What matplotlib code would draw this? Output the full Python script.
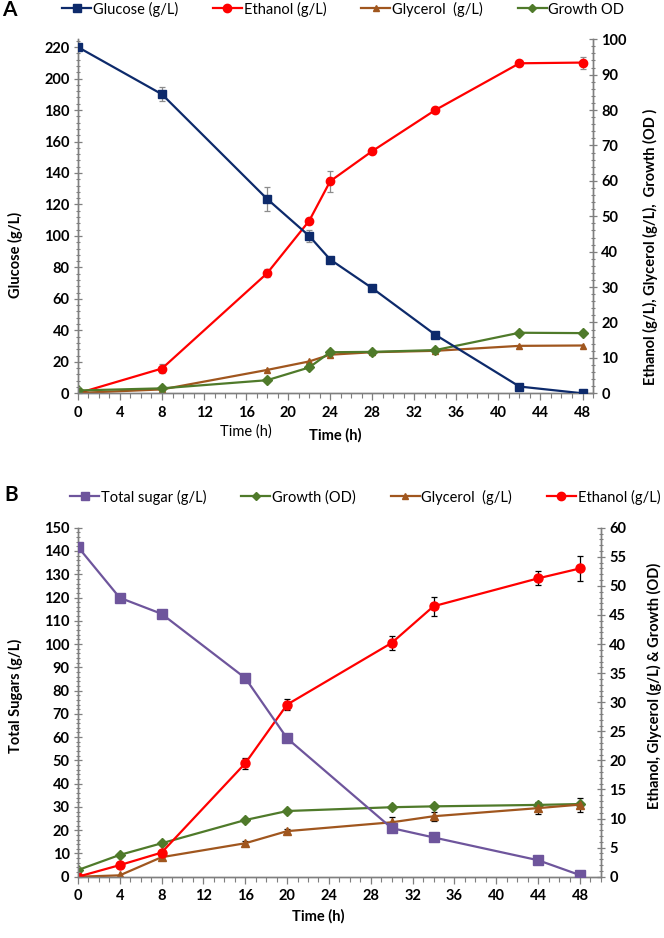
import numpy as np
import matplotlib.pyplot as plt
from matplotlib.ticker import MultipleLocator
from matplotlib.lines import Line2D

plt.rcParams['font.family'] = ['Lato', 'DejaVu Sans']

# ---- panel A data
time_a = [0, 8, 18, 22, 24, 28, 34, 42, 48]
glucose_a = [220, 190, 123.5, 100, 85, 66.8, 37.2, 4.3, 0]
glucose_a_err = [0, 4.4, 7.9, 3.6, 0, 0, 0, 0, 0]
ethanol_a = [0, 7.0, 33.9, 48.7, 59.9, 68.4, 80.0, 93.2, 93.4]
ethanol_a_err = [0, 1.4, 1.1, 0.8, 3.0, 0.9, 0.9, 0.5, 1.7]
glycerol_a = [0.1, 1.1, 6.6, 9.0, 10.9, 11.6, 12.0, 13.4, 13.5]
growth_a = [0.8, 1.4, 3.7, 7.3, 11.6, 11.7, 12.2, 17.1, 17.0]

# ---- panel B data
time_b = [0, 4, 8, 16, 20, 30, 34, 44, 48]
sugar_b = [141.8, 119.9, 113.0, 85.4, 59.5, 20.9, 16.9, 7.1, 0.7]
sugar_b_err = [0, 0, 1.7, 0, 0, 0, 0, 0, 0]
ethanol_b = [0, 2.0, 4.15, 19.5, 29.6, 40.2, 46.5, 51.3, 53.0]
ethanol_b_err = [0, 0, 0, 0.9, 0.95, 1.2, 1.6, 1.2, 2.2]
glycerol_b = [0, 0.24, 3.36, 5.76, 7.84, 9.36, 10.4, 11.8, 12.4]
glycerol_b_err = [0, 0, 0, 0.3, 0.4, 0.9, 0.8, 1.0, 1.2]
growth_b = [1.15, 3.75, 5.75, 9.75, 11.3, 11.95, 12.1, 12.35, 12.5]
growth_b_err = [0, 0, 0, 0, 0, 0, 0, 0.3, 0]

c_glu = '#0d2a6b'
c_eth = '#ff0000'
c_gly = '#a0561e'
c_gro = '#4f7a2a'
c_sug = '#6e559c'
c_spine = '#7f7f7f'


def errbars(ax, x, y, e, color):
    x = np.array(x); y = np.array(y); e = np.array(e)
    m = e > 0
    ax.errorbar(x[m], y[m], yerr=e[m], fmt='none', ecolor=color,
                elinewidth=0.9, capsize=2.5, capthick=0.9, zorder=4)


def style_axes(ax, ax2, xmax, ymax, ymaj, ymin, y2max, y2maj, y2min):
    ax.set_xlim(0, xmax)
    ax.set_ylim(0, ymax)
    ax2.set_ylim(0, y2max)
    ax.xaxis.set_major_locator(MultipleLocator(4))
    ax.xaxis.set_minor_locator(MultipleLocator(1))
    ax.yaxis.set_major_locator(MultipleLocator(ymaj))
    ax.yaxis.set_minor_locator(MultipleLocator(ymin))
    ax2.yaxis.set_major_locator(MultipleLocator(y2maj))
    ax2.yaxis.set_minor_locator(MultipleLocator(y2min))
    for a in (ax, ax2):
        a.spines['top'].set_visible(False)
        for s in ('left', 'right', 'bottom'):
            a.spines[s].set_color(c_spine)
            a.spines[s].set_linewidth(1.0)
        a.tick_params(which='major', direction='inout', length=6, width=0.9,
                      color=c_spine, labelsize=10.5, pad=3)
        a.tick_params(which='minor', direction='inout', length=3.5, width=0.8,
                      color=c_spine)
        for lab in a.get_xticklabels() + a.get_yticklabels():
            lab.set_fontweight('bold')
    ax.tick_params(axis='x', which='both', direction='out')
    ax.tick_params(axis='x', which='major', length=5, pad=4)


fig = plt.figure(figsize=(6.64, 9.38), dpi=100)

# ================= Panel A
ax = fig.add_axes([0.1173, 0.5807, 0.7758, 0.3775])
ax2 = ax.twinx()
ax.set_zorder(2)
ax.patch.set_visible(False)

errbars(ax, time_a, glucose_a, glucose_a_err, '#8c8c8c')
ax.plot(time_a, glucose_a, color=c_glu, lw=1.6, marker='s', ms=5.5, zorder=5)
errbars(ax2, time_a, ethanol_a, ethanol_a_err, '#8c8c8c')
ax2.plot(time_a, ethanol_a, color=c_eth, lw=1.6, marker='o', ms=6, zorder=5)
ax2.plot(time_a, glycerol_a, color=c_gly, lw=1.6, marker='^', ms=5, zorder=5)
ax2.plot(time_a, growth_a, color=c_gro, lw=1.6, marker='D', ms=5, zorder=5)
style_axes(ax, ax2, 49, 225, 20, 4, 100, 10, 2)

fig.text(15 / 664, 1 - 255 / 938, 'Glucose (g/L)', rotation=90, ha='center',
         va='center', fontsize=10.5, fontweight='bold')
fig.text(650 / 664, 1 - 247 / 938, 'Ethanol (g/L), Glycerol (g/L),  Growth (OD )',
         rotation=90, ha='center', va='center', fontsize=10.5, fontweight='bold')
fig.text(246 / 664, 1 - 432 / 938, 'Time (h)', ha='center', va='center',
         fontsize=10.5)
fig.text(335 / 664, 1 - 435 / 938, 'Time (h)', ha='center', va='center',
         fontsize=10.5, fontweight='bold')
fig.text(2 / 664, 1 - 10 / 938, 'A', ha='left', va='center', fontsize=15,
         fontweight='bold')

handles_a = [
    Line2D([], [], color=c_glu, lw=1.6, marker='s', ms=5.5),
    Line2D([], [], color=c_eth, lw=1.6, marker='o', ms=6),
    Line2D([], [], color=c_gly, lw=1.6, marker='^', ms=5),
    Line2D([], [], color=c_gro, lw=1.6, marker='D', ms=4),
]
fig.legend(handles_a, ['Glucose (g/L)', 'Ethanol (g/L)', 'Glycerol  (g/L)', 'Growth OD'],
           loc='center left', bbox_to_anchor=(62 / 664, 1 - 9 / 938), ncol=4,
           frameon=False, fontsize=10.5, handlelength=2.0, handletextpad=0.1,
           columnspacing=2.4, borderaxespad=0, borderpad=0)

# ================= Panel B
bx = fig.add_axes([0.1173, 0.0653, 0.7877, 0.3721])
bx2 = bx.twinx()
bx.set_zorder(2)
bx.patch.set_visible(False)

errbars(bx, time_b, sugar_b, sugar_b_err, 'black')
bx.plot(time_b, sugar_b, color=c_sug, lw=1.6, marker='s', ms=7, zorder=5)
errbars(bx2, time_b, growth_b, growth_b_err, 'black')
bx2.plot(time_b, growth_b, color=c_gro, lw=1.6, marker='D', ms=5, zorder=5)
errbars(bx2, time_b, glycerol_b, glycerol_b_err, 'black')
bx2.plot(time_b, glycerol_b, color=c_gly, lw=1.6, marker='^', ms=6, zorder=5)
errbars(bx2, time_b, ethanol_b, ethanol_b_err, 'black')
bx2.plot(time_b, ethanol_b, color=c_eth, lw=1.6, marker='o', ms=6.5, zorder=5)
style_axes(bx, bx2, 50, 150, 10, 2, 60, 5, 1)

fig.text(15 / 664, 1 - 696 / 938, 'Total Sugars (g/L)', rotation=90, ha='center',
         va='center', fontsize=10.5, fontweight='bold')
fig.text(654 / 664, 1 - 686 / 938, 'Ethanol, Glycerol (g/L) & Growth (OD)',
         rotation=90, ha='center', va='center', fontsize=10.5, fontweight='bold')
fig.text(318 / 664, 1 - 916 / 938, 'Time (h)', ha='center', va='center',
         fontsize=10.5, fontweight='bold')
fig.text(4 / 664, 1 - 495 / 938, 'B', ha='left', va='center', fontsize=15,
         fontweight='bold')

handles_b = [
    Line2D([], [], color=c_sug, lw=1.6, marker='s', ms=6),
    Line2D([], [], color=c_gro, lw=1.6, marker='D', ms=4),
    Line2D([], [], color=c_gly, lw=1.6, marker='^', ms=5),
    Line2D([], [], color=c_eth, lw=1.6, marker='o', ms=6),
]
fig.legend(handles_b, ['Total sugar (g/L)', 'Growth (OD)', 'Glycerol  (g/L)', 'Ethanol (g/L)'],
           loc='center left', bbox_to_anchor=(70 / 664, 1 - 497 / 938), ncol=4,
           frameon=False, fontsize=10.5, handlelength=2.0, handletextpad=0.1,
           columnspacing=2.4, borderaxespad=0, borderpad=0)

fig.savefig('out.png', dpi=100)
